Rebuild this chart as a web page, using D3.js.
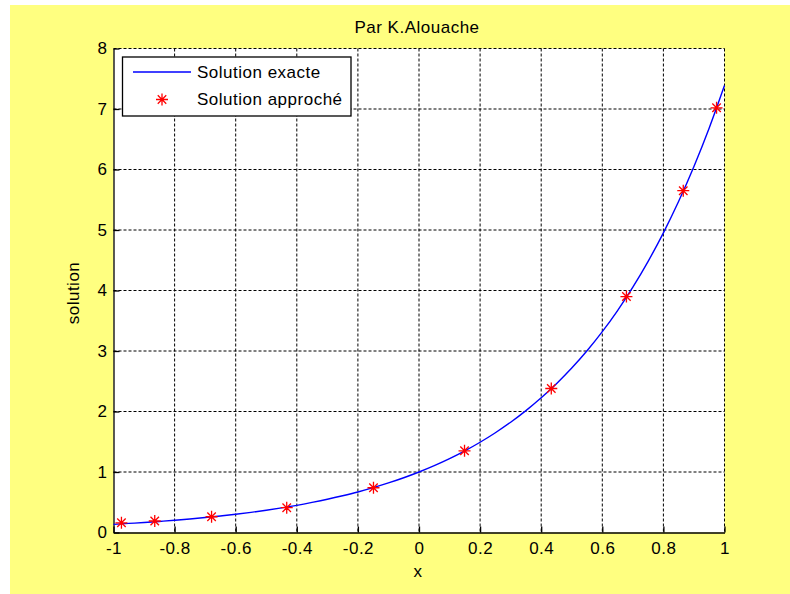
<!DOCTYPE html>
<html lang="fr">
<head>
  <meta charset="UTF-8">
  <title>Par K.Alouache</title>
  <script src="https://d3js.org/d3.v7.min.js"></script>
  <style>
    body { margin: 0; background: #fff; }
    text { font-family: Arial, "Liberation Sans", sans-serif; fill: #000; letter-spacing: 0.5px; }
  </style>
</head>
<body>
<div id="chart"></div>
<script>
  // solution exacte
  let exactX = [-1, -0.95, -0.9, -0.85, -0.8, -0.75, -0.7, -0.65, -0.6, -0.55, -0.5,
    -0.45, -0.4, -0.35, -0.3, -0.25, -0.2, -0.15, -0.1, -0.05, 0,
    0.05, 0.1, 0.15, 0.2, 0.25, 0.3, 0.35, 0.4, 0.45, 0.5,
    0.55, 0.6, 0.65, 0.7, 0.75, 0.8, 0.85, 0.9, 0.95, 1];
  let exactY = [0.135, 0.150, 0.165, 0.183, 0.202, 0.223, 0.247, 0.273, 0.301, 0.333, 0.368,
    0.407, 0.449, 0.497, 0.549, 0.607, 0.670, 0.741, 0.819, 0.905, 1.0,
    1.105, 1.221, 1.350, 1.492, 1.649, 1.822, 2.014, 2.226, 2.460, 2.718,
    3.004, 3.320, 3.669, 4.055, 4.482, 4.953, 5.474, 6.050, 6.686, 7.389];

  // solution approchée (étoiles)
  let approxX = [-0.974, -0.865, -0.679, -0.433, -0.149, 0.149, 0.433, 0.679, 0.865, 0.974];
  let approxY = [0.16, 0.19, 0.26, 0.41, 0.74, 1.35, 2.38, 3.90, 5.65, 7.02];

  let xTicks = [-1, -0.8, -0.6, -0.4, -0.2, 0, 0.2, 0.4, 0.6, 0.8, 1];
  let yTicks = [0, 1, 2, 3, 4, 5, 6, 7, 8];

  let width = 790, height = 594;
  let pLeft = 113.5, pRight = 724.5, pTop = 48.5, pBottom = 532.5;
  let fs = "17px";

  let svg = d3.select("#chart").append("svg")
          .attr("width", width)
          .attr("height", height)
          .style("display", "block");

  // fond jaune de la figure
  svg.append("rect").attr("x", 10).attr("y", 5)
          .attr("width", width - 10).attr("height", height - 5)
          .attr("fill", "#ffff80");

  svg.append("rect").attr("x", pLeft).attr("y", pTop)
          .attr("width", pRight - pLeft).attr("height", pBottom - pTop)
          .attr("fill", "#fff");

  let x = d3.scaleLinear().domain([-1, 1]).range([pLeft, pRight]);
  let y = d3.scaleLinear().domain([0, 8]).range([pBottom, pTop]);

  // grille pointillée
  let grid = svg.append("g").attr("stroke", "#000").attr("stroke-width", 1)
          .attr("stroke-dasharray", "3,2");
  grid.selectAll(".vx").data(xTicks.slice(1)).join("line")
          .attr("x1", d => x(d)).attr("x2", d => x(d))
          .attr("y1", pTop).attr("y2", pBottom);
  grid.selectAll(".hy").data(yTicks.slice(1)).join("line")
          .attr("x1", pLeft).attr("x2", pRight)
          .attr("y1", d => y(d)).attr("y2", d => y(d));

  // axes
  let xAxis = d3.axisBottom(x).tickValues(xTicks).tickSizeInner(-6).tickSizeOuter(0)
          .tickPadding(9).tickFormat(d => String(d));
  let yAxis = d3.axisLeft(y).tickValues(yTicks).tickSizeInner(-6).tickSizeOuter(0)
          .tickPadding(6).tickFormat(d => String(d));

  let gx = svg.append("g").attr("transform", `translate(0,${pBottom})`).call(xAxis);
  let gy = svg.append("g").attr("transform", `translate(${pLeft},0)`).call(yAxis);
  [gx, gy].forEach(g => {
    g.selectAll("path, line").attr("stroke", "#000").attr("stroke-width", 1.3);
    g.selectAll("text").style("font-size", fs).attr("fill", "#000");
  });

  // courbe exacte
  let line = d3.line()
          .x((d, i) => x(exactX[i]))
          .y(d => y(d))
          .curve(d3.curveMonotoneX);
  svg.append("path").datum(exactY)
          .attr("d", line)
          .attr("fill", "none")
          .attr("stroke", "#0000ff")
          .attr("stroke-width", 1.4);

  // étoiles
  function star(g, cx, cy, r) {
    let p = "";
    for (let k = 0; k < 4; k++) {
      let a = k * Math.PI / 4;
      let dx = r * Math.sin(a), dy = r * Math.cos(a);
      p += `M${cx - dx},${cy - dy}L${cx + dx},${cy + dy}`;
    }
    g.append("path").attr("d", p).attr("stroke", "#ff0000")
            .attr("stroke-width", 1.3).attr("fill", "none");
  }
  let stars = svg.append("g");
  approxX.forEach((v, i) => star(stars, x(v), y(approxY[i]), 6));

  // titres
  svg.append("text").attr("x", 417).attr("y", 33)
          .attr("text-anchor", "middle").style("font-size", fs)
          .text("Par K.Alouache");
  svg.append("text").attr("x", 418).attr("y", 577)
          .attr("text-anchor", "middle").style("font-size", fs)
          .text("x");
  svg.append("text").attr("transform", "translate(79,293) rotate(-90)")
          .attr("text-anchor", "middle").style("font-size", fs)
          .text("solution");

  // légende
  let leg = svg.append("g");
  leg.append("rect").attr("x", 122.5).attr("y", 57)
          .attr("width", 228.5).attr("height", 59)
          .attr("fill", "#fff").attr("stroke", "#000").attr("stroke-width", 1.3);
  leg.append("line").attr("x1", 133).attr("x2", 191).attr("y1", 72).attr("y2", 72)
          .attr("stroke", "#0000ff").attr("stroke-width", 1.4);
  star(leg, 162, 99.5, 6);
  leg.append("text").attr("x", 197).attr("y", 78).style("font-size", fs)
          .text("Solution exacte");
  leg.append("text").attr("x", 197).attr("y", 105).style("font-size", fs)
          .text("Solution approché");
</script>
</body>
</html>
